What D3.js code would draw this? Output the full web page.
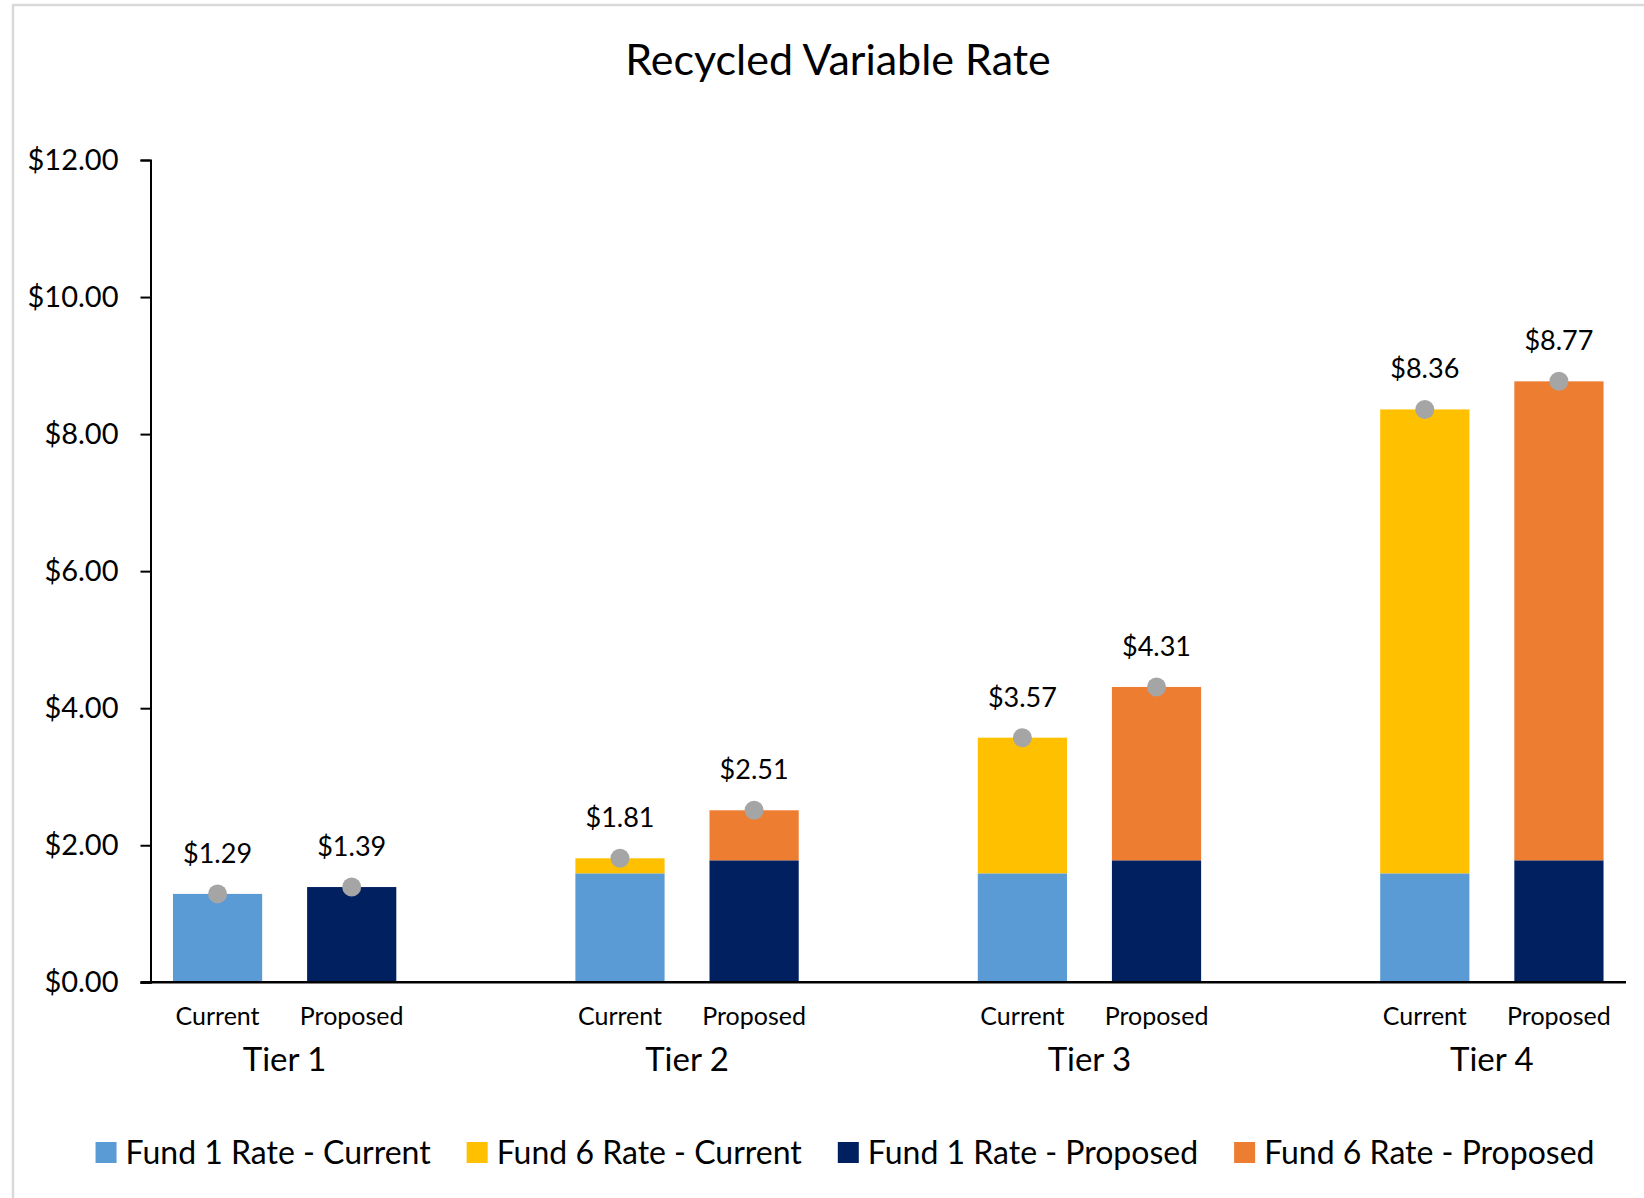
<!DOCTYPE html>
<html>
<head>
<meta charset="utf-8">
<script src="https://cdn.jsdelivr.net/npm/d3@7"></script>
<style>
    body { margin: 0; background: #fff; }
    svg { display: block; font-family: Lato, "Open Sans", sans-serif; }
</style>
</head>
<body>
<div id="chart"></div>
<script>
// values
var tiers = ["Tier 1", "Tier 2", "Tier 3", "Tier 4"];
var scenarios = ["Current", "Proposed"];
var fund1Current = [1.29, 1.59, 1.59, 1.59];
var fund6Current = [0, 0.22, 1.98, 6.77];
var fund1Proposed = [1.39, 1.78, 1.78, 1.78];
var fund6Proposed = [0, 0.73, 2.53, 6.99];
var totalCurrent = [1.29, 1.81, 3.57, 8.36];
var totalProposed = [1.39, 2.51, 4.31, 8.77];
var yTicks = [0, 2, 4, 6, 8, 10, 12];
var seriesNames = ["Fund 1 Rate - Current", "Fund 6 Rate - Current", "Fund 1 Rate - Proposed", "Fund 6 Rate - Proposed"];
var seriesColors = ["#5B9BD5", "#FFC000", "#002060", "#ED7D31"];

var width = 1644, height = 1198;
var svg = d3.select("#chart").append("svg")
    .attr("width", width)
    .attr("height", height);

// outer chart border (right/bottom run off the picture)
svg.append("rect")
    .attr("x", 13).attr("y", 5)
    .attr("width", 2000).attr("height", 2000)
    .attr("fill", "none")
    .attr("stroke", "#d9d9d9")
    .attr("stroke-width", 2.5);

svg.append("text")
    .attr("x", 838).attr("y", 75)
    .attr("text-anchor", "middle")
    .style("font-size", "43px")
    .text("Recycled Variable Rate");

// slots: Current, Proposed, gap, ... (no gap after the last tier)
var slots = [];
var rows = [];
tiers.forEach(function (t, i) {
    rows.push({ slot: t + "|Current", tier: i, scen: 0, f1c: fund1Current[i], f6c: fund6Current[i], f1p: 0, f6p: 0, total: totalCurrent[i] });
    rows.push({ slot: t + "|Proposed", tier: i, scen: 1, f1c: 0, f6c: 0, f1p: fund1Proposed[i], f6p: fund6Proposed[i], total: totalProposed[i] });
    slots.push(t + "|Current", t + "|Proposed");
    if (i < tiers.length - 1) slots.push("gap" + i);
});

var left = 150.5, right = 1626, y0 = 982.3, yTop = 160;

var x = d3.scaleBand()
    .domain(slots)
    .range([left, right])
    .paddingInner(0.335)
    .paddingOuter(0.1675);

var y = d3.scaleLinear()
    .domain([0, 12])
    .range([y0, yTop]);

var keys = ["f1c", "f6c", "f1p", "f6p"];
var stacked = d3.stack().keys(keys)(rows);

svg.append("g")
    .selectAll("g")
    .data(stacked)
    .enter().append("g")
    .attr("fill", function (d, i) { return seriesColors[i]; })
    .selectAll("rect")
    .data(function (d) { return d; })
    .enter().append("rect")
    .attr("x", function (d) { return x(d.data.slot); })
    .attr("width", x.bandwidth())
    .attr("y", function (d) { return y(d[1]); })
    .attr("height", function (d) { return y(d[0]) - y(d[1]); });

// y axis
var yAxis = svg.append("g")
    .attr("transform", "translate(" + left + ",0)")
    .call(d3.axisLeft(y).tickValues(yTicks).tickSize(10).tickPadding(22).tickFormat(d3.format("$.2f")));
yAxis.select(".domain").attr("stroke-width", 2);
yAxis.selectAll(".tick line").attr("stroke-width", 2);
yAxis.selectAll(".tick text")
    .style("font-size", "29px")
    .style("font-family", "Lato, sans-serif")
    .attr("fill", "#000");

// x axis line
svg.append("line")
    .attr("x1", left - 10).attr("x2", right)
    .attr("y1", y0).attr("y2", y0)
    .attr("stroke", "#000")
    .attr("stroke-width", 2.5);

// total markers
svg.append("g")
    .selectAll("circle")
    .data(rows)
    .enter().append("circle")
    .attr("cx", function (d) { return x(d.slot) + x.bandwidth() / 2; })
    .attr("cy", function (d) { return y(d.total); })
    .attr("r", 9.5)
    .attr("fill", "#A5A5A5");

svg.append("g")
    .selectAll("text")
    .data(rows)
    .enter().append("text")
    .attr("x", function (d) { return x(d.slot) + x.bandwidth() / 2; })
    .attr("y", function (d) { return y(d.total) - 31; })
    .attr("text-anchor", "middle")
    .style("font-size", "27px")
    .text(function (d) { return d3.format("$.2f")(d.total); });

// category labels
svg.append("g")
    .selectAll("text")
    .data(rows)
    .enter().append("text")
    .attr("x", function (d) { return x(d.slot) + x.bandwidth() / 2; })
    .attr("y", 1025)
    .attr("text-anchor", "middle")
    .style("font-size", "25px")
    .text(function (d) { return scenarios[d.scen]; });

svg.append("g")
    .selectAll("text")
    .data(tiers)
    .enter().append("text")
    .attr("x", function (t) { return (x(t + "|Current") + x(t + "|Proposed") + x.bandwidth()) / 2; })
    .attr("y", 1071)
    .attr("text-anchor", "middle")
    .style("font-size", "33px")
    .text(function (t) { return t; });

// legend
var legend = svg.append("g");
var lx = 0;
seriesNames.forEach(function (name, i) {
    var item = legend.append("g").attr("transform", "translate(" + lx + ",0)");
    item.append("rect")
        .attr("x", 0).attr("y", -10)
        .attr("width", 21).attr("height", 21)
        .attr("fill", seriesColors[i]);
    var t = item.append("text")
        .attr("x", 30).attr("y", 0)
        .attr("dy", "0.36em")
        .style("font-size", "32px")
        .text(name);
    lx += 30 + t.node().getComputedTextLength() + 36;
});
lx -= 36;
legend.attr("transform", "translate(" + (845 - lx / 2) + ",1152)");
</script>
</body>
</html>
